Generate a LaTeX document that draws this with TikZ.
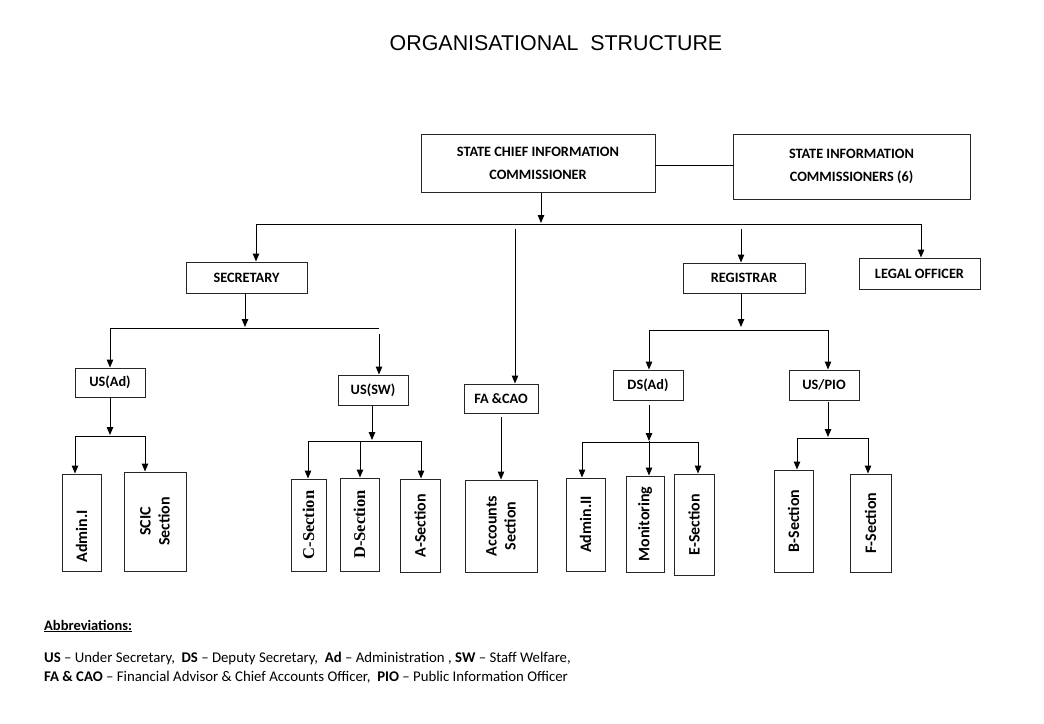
\documentclass[tikz,border=0pt]{standalone}
\usepackage{fontspec}
\setmainfont{Carlito}
\newfontfamily\arialf{Liberation Sans}
\newfontfamily\serift{Liberation Serif}
\usetikzlibrary{arrows.meta}
\begin{document}
\begin{tikzpicture}[x=1pt,y=-1pt,
  box/.style={draw=black!85,line width=1pt,inner sep=0pt,align=center,font=\fontsize{14.3}{23}\selectfont\bfseries},
  vbox/.style={draw=black!85,line width=1pt,inner sep=0pt},
  vtxt/.style={rotate=90,align=center,font=\fontsize{16}{19}\selectfont\bfseries},
  stxt/.style={rotate=90,align=center,font=\serift\fontsize{16.5}{19}\selectfont\bfseries},
  arr/.style={line width=1pt,-{Triangle[length=8pt,width=6.5pt]}},
  ln/.style={line width=1pt}]
\useasboundingbox (0,0) rectangle (1044,723);
\node[font=\arialf\fontsize{21.4}{24}\selectfont] (title) at (556,43) {ORGANISATIONAL\ \ STRUCTURE};
% top level
\node[box,minimum width=234pt,minimum height=58pt] (scic) at (538,163) {STATE CHIEF INFORMATION\\COMMISSIONER};
\node[box,minimum width=237pt,minimum height=65pt] (sic) at (851.5,166.5) {STATE INFORMATION\\COMMISSIONERS (6)};
\coordinate (k0) at (655,165);
\draw[ln] (k0) -- (sic.west |- k0);
% second level
\node[box,minimum width=121pt,minimum height=31pt] (sec) at (246.5,277.5) {SECRETARY};
\node[box,minimum width=74pt,minimum height=29pt] (fa) at (501,398.5) {FA \&CAO};
\node[box,minimum width=122pt,minimum height=30pt] (reg) at (744,278) {REGISTRAR};
\node[box,minimum width=121pt,minimum height=31pt] (legal) at (919.5,273.5) {LEGAL OFFICER};
% third level
\node[box,minimum width=70pt,minimum height=29pt] (usad) at (110,382.5) {US(Ad)};
\node[box,minimum width=70pt,minimum height=30pt] (ussw) at (373,390) {US(SW)};
\node[box,minimum width=70pt,minimum height=30pt] (dsad) at (648,385) {DS(Ad)};
\node[box,minimum width=70pt,minimum height=30pt] (uspio) at (824,385) {US/PIO};
% sections
\node[vbox,minimum width=39pt,minimum height=97pt] (admin1) at (81.5,522.5) {};
\node[vtxt] at ([yshift=-14pt]admin1.center) {Admin.I};
\node[vbox,minimum width=62pt,minimum height=99pt] (scics) at (155,521.5) {};
\node[vtxt] at (scics) {SCIC\\Section};
\node[vbox,minimum width=35pt,minimum height=92pt] (csec) at (308.5,525) {};
\node[stxt] at (csec) {C-Section};
\node[vbox,minimum width=39pt,minimum height=93pt] (dsec) at (359.5,524.5) {};
\node[stxt] at (dsec) {D-Section};
\node[vbox,minimum width=40pt,minimum height=93pt] (asec) at (420,525.5) {};
\node[vtxt] at (asec) {A-Section};
\node[vbox,minimum width=72pt,minimum height=92pt] (acc) at (501,526) {};
\node[vtxt] at (acc) {Accounts\\Section};
\node[vbox,minimum width=39pt,minimum height=93pt] (admin2) at (585.5,524.5) {};
\node[vtxt] at (admin2) {Admin.II};
\node[vbox,minimum width=38pt,minimum height=96pt] (mon) at (645,524) {};
\node[vtxt] at (mon) {Monitoring};
\node[vbox,minimum width=40pt,minimum height=101pt] (esec) at (694,524.5) {};
\node[vtxt] at (esec) {E-Section};
\node[vbox,minimum width=39pt,minimum height=102pt] (bsec) at (793.5,521) {};
\node[vtxt] at (bsec) {B-Section};
\node[vbox,minimum width=41pt,minimum height=98pt] (fsec) at (870.5,523) {};
\node[vtxt] at (fsec) {F-Section};
% connectors level 1
\coordinate (c0) at (541,223);
\coordinate (bL) at (256,224);
\coordinate (bR) at (921,224);
\coordinate (f0) at (515,229);
\coordinate (r0) at (741,229);
\draw[arr] (scic.south -| c0) -- (c0);
\draw[ln] (bL) -- (bR);
\draw[arr] (bL) -- (sec.north -| bL);
\draw[arr] (f0) -- (fa.north -| f0);
\draw[arr] (r0) -- (reg.north -| r0);
\draw[arr] (bR) -- (legal.north -| bR);
% secretary
\coordinate (s1) at (245,327);
\coordinate (sL) at (110,328);
\coordinate (sR) at (379,328);
\coordinate (s2) at (379,334);
\draw[arr] (sec.south -| s1) -- (s1);
\draw[ln] (sL) -- (sR);
\draw[arr] (sL) -- (usad.north -| sL);
\draw[arr] (s2) -- (ussw.north -| s2);
% registrar
\coordinate (g1) at (741,327);
\coordinate (gL) at (649,330);
\coordinate (gR) at (828,330);
\draw[arr] (reg.south -| g1) -- (g1);
\draw[ln] (gL) -- (gR);
\draw[arr] (gL) -- (dsad.north -| gL);
\draw[arr] (gR) -- (uspio.north -| gR);
% US(Ad)
\coordinate (a1) at (110,435);
\coordinate (aL) at (75,436);
\coordinate (aR) at (145,436);
\draw[arr] (usad.south -| a1) -- (a1);
\draw[ln] (aL) -- (aR);
\draw[arr] (aL) -- (admin1.north -| aL);
\draw[arr] (aR) -- (scics.north -| aR);
% US(SW)
\coordinate (w1) at (372,440);
\coordinate (wL) at (308,441);
\coordinate (wM) at (360,441);
\coordinate (wR) at (421,441);
\draw[arr] (ussw.south -| w1) -- (w1);
\draw[ln] (wL) -- (wR);
\draw[arr] (wL) -- (csec.north -| wL);
\draw[arr] (wM) -- (dsec.north -| wM);
\draw[arr] (wR) -- (asec.north -| wR);
% FA
\coordinate (fa1) at (501,417);
\draw[arr] (fa1) -- (acc.north -| fa1);
% DS(Ad)
\coordinate (d0) at (649,405);
\coordinate (d1) at (649,441);
\coordinate (dL) at (582,442);
\coordinate (dR) at (698,442);
\draw[arr] (d0) -- (d1);
\draw[ln] (dL) -- (dR);
\draw[arr] (dL) -- (admin2.north -| dL);
\draw[arr] (d1) -- (mon.north -| d1);
\draw[arr] (dR) -- (esec.north -| dR);
% US/PIO
\coordinate (p0) at (828,402);
\coordinate (p1) at (828,437);
\coordinate (pL) at (797,438);
\coordinate (pR) at (868,438);
\draw[arr] (p0) -- (p1);
\draw[ln] (pL) -- (pR);
\draw[arr] (pL) -- (bsec.north -| pL);
\draw[arr] (pR) -- (fsec.north -| pR);
% abbreviations
\node[anchor=west,inner sep=0pt,font=\fontsize{14.5}{17}\selectfont] (abbr) at (44,626) {\underline{\textbf{Abbreviations:}}};
\node[anchor=north west,inner sep=0pt,align=left,font=\fontsize{14.8}{18.5}\selectfont] (abbrtxt) at (44,652)
 {\textbf{US} -- Under Secretary,\ \ \textbf{DS} -- Deputy Secretary,\ \ \textbf{Ad} -- Administration , \textbf{SW} -- Staff Welfare,\\
  \textbf{FA \& CAO} -- Financial Advisor \& Chief Accounts Officer,\ \ \textbf{PIO} -- Public Information Officer};
\end{tikzpicture}
\end{document}
